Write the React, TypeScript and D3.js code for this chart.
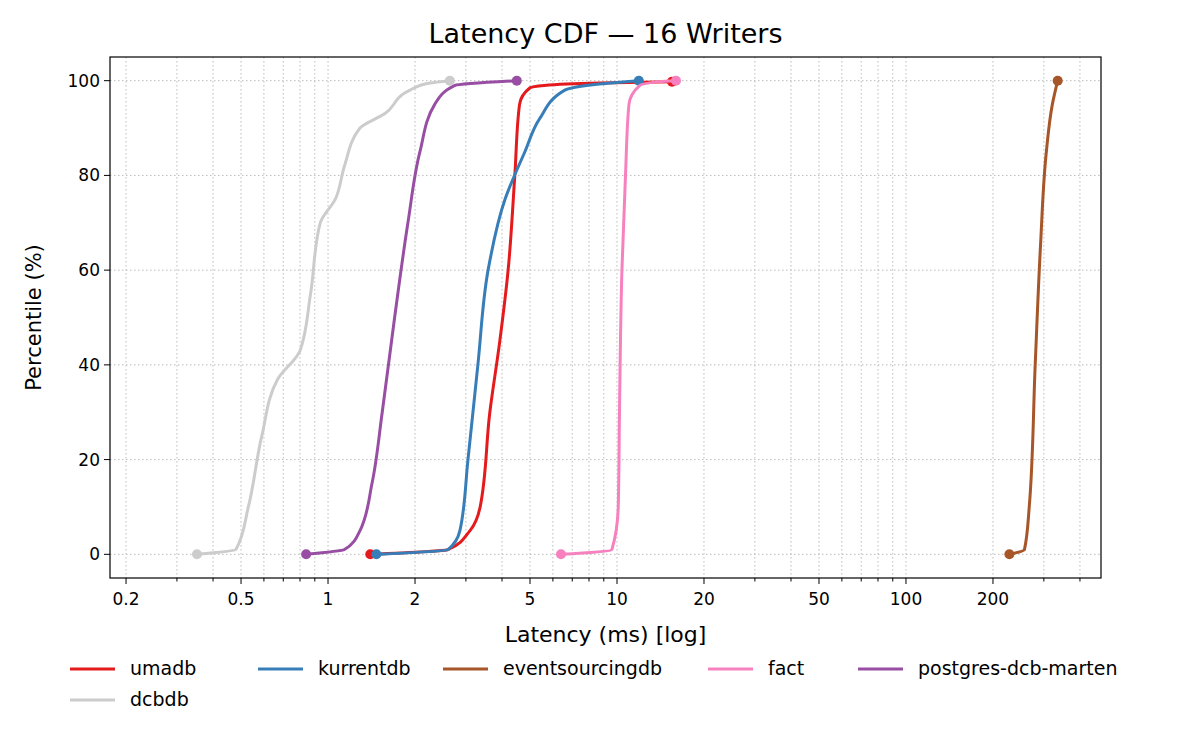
import * as d3 from "d3"

type Pt = [number, number]

const umadb: Pt[] = [[1.4, 0], [2.6, 1], [3.1, 5], [3.36, 10], [3.63, 30], [3.93, 45], [4.2, 60], [4.43, 80], [4.6, 95], [5.0, 98.5], [5.6, 99], [8.7, 99.5], [15.5, 99.8]]
const kurrentdb: Pt[] = [[1.47, 0], [2.6, 1], [2.86, 5], [3.05, 20], [3.3, 40], [3.58, 60], [4.1, 75], [4.8, 85], [5.4, 92], [6.6, 98], [8.7, 99.3], [11.9, 100]]
const eventsourcingdb: Pt[] = [[228, 0], [257, 1], [267, 10], [280, 40], [292, 65], [306, 85], [321, 95], [335, 100]]
const fact: Pt[] = [[6.4, 0], [9.6, 1], [10.1, 10], [10.2, 30], [10.4, 60], [10.7, 80], [11.0, 95], [12, 99], [14, 99.8], [16, 100]]
const postgres: Pt[] = [[0.84, 0], [1.14, 1], [1.29, 5], [1.42, 15], [1.54, 30], [1.7, 50], [1.89, 70], [2.08, 85], [2.34, 95], [2.75, 99], [4.5, 100]]
const dcbdb: Pt[] = [[0.352, 0], [0.48, 1], [0.53, 10], [0.59, 25], [0.67, 37], [0.8, 43], [0.87, 55], [0.94, 70], [1.06, 75], [1.14, 82], [1.29, 90], [1.57, 93], [1.92, 98], [2.25, 99.5], [2.64, 100]]

const series = [
  { name: "umadb", color: "#e41a1c", data: umadb },
  { name: "kurrentdb", color: "#377eb8", data: kurrentdb },
  { name: "eventsourcingdb", color: "#a65628", data: eventsourcingdb },
  { name: "fact", color: "#f781bf", data: fact },
  { name: "postgres-dcb-marten", color: "#984ea3", data: postgres },
  { name: "dcbdb", color: "#cccccc", data: dcbdb },
]

const xTickLabels = [0.2, 0.5, 1, 2, 5, 10, 20, 50, 100, 200]
const yTicks = [0, 20, 40, 60, 80, 100]

const L = 110, R = 1101, T = 57, B = 578

const App = () => {
  const x = d3.scaleLog().domain([0.176, 473]).range([L, R])
  const y = d3.scaleLinear().domain([-5, 105]).range([B, T])
  const line = d3.line<Pt>().x(d => x(d[0])).y(d => y(d[1])).curve(d3.curveMonotoneY)
  const minor: number[] = []
  for (let e = -1; e <= 2; e++) for (let m = 1; m <= 9; m++) {
    const v = m * Math.pow(10, e)
    if (v >= 0.176 && v <= 473) minor.push(v)
  }
  const legendCols = [70, 258, 443, 708, 858]
  return (
    <svg width={1200} height={750} style={{ position: "absolute", left: 0, top: 0, fontFamily: "DejaVu Sans" }}>
      <rect width={1200} height={750} fill="white" />
      {minor.map(v => (
        <line key={"g" + v} x1={x(v)} x2={x(v)} y1={T} y2={B} stroke="#bbb" strokeWidth={1} strokeDasharray="1.5,2.5" />
      ))}
      {yTicks.map(v => (
        <line key={"h" + v} x1={L} x2={R} y1={y(v)} y2={y(v)} stroke="#bbb" strokeWidth={1} strokeDasharray="1.5,2.5" />
      ))}
      {series.map(s => (
        <g key={s.name}>
          <path d={line(s.data) || ""} fill="none" stroke={s.color} strokeWidth={3} strokeLinejoin="round" />
          {[s.data[0], s.data[s.data.length - 1]].map((d, i) => (
            <circle key={i} cx={x(d[0])} cy={y(d[1])} r={5} fill={s.color} />
          ))}
        </g>
      ))}
      <rect x={L} y={T} width={R - L} height={B - T} fill="none" stroke="black" strokeWidth={1.2} />
      {minor.map(v => (
        <line key={"t" + v} x1={x(v)} x2={x(v)} y1={B} y2={B + (xTickLabels.includes(v) ? 6 : 3.5)} stroke="black" />
      ))}
      {xTickLabels.map(v => (
        <text key={"xl" + v} x={x(v)} y={B + 27} fontSize={17} textAnchor="middle">{v}</text>
      ))}
      {yTicks.map(v => (
        <g key={"yl" + v}>
          <line x1={L - 6} x2={L} y1={y(v)} y2={y(v)} stroke="black" />
          <text x={L - 10} y={y(v) + 6} fontSize={17} textAnchor="end">{v}</text>
        </g>
      ))}
      <text x={(L + R) / 2} y={43} fontSize={27} textAnchor="middle">Latency CDF — 16 Writers</text>
      <text x={(L + R) / 2} y={642} fontSize={22} textAnchor="middle">Latency (ms) [log]</text>
      <text transform={`translate(41,${(T + B) / 2}) rotate(-90)`} fontSize={21} textAnchor="middle">Percentile (%)</text>
      {series.map((s, i) => {
        const lx = legendCols[i % 5]
        const ly = i < 5 ? 669 : 700
        return (
          <g key={"lg" + s.name}>
            <line x1={lx} x2={lx + 45} y1={ly} y2={ly} stroke={s.color} strokeWidth={3} />
            <text x={lx + 60} y={ly + 6} fontSize={19}>{s.name}</text>
          </g>
        )
      })}
    </svg>
  )
}

export default App
